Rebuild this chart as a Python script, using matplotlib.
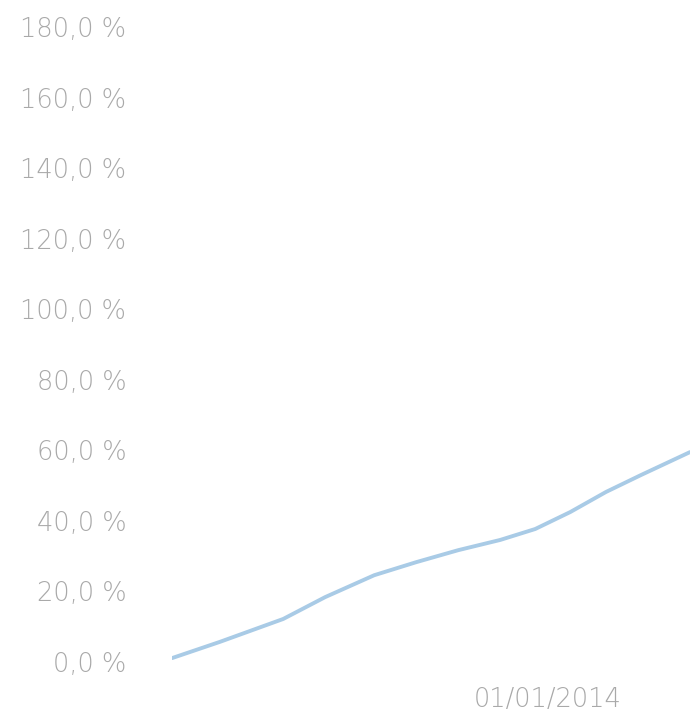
import matplotlib
matplotlib.use('Agg')
import matplotlib.pyplot as plt
import matplotlib.dates as mdates
import pandas as pd
from matplotlib.ticker import FuncFormatter

dates = pd.to_datetime([
    '2011-05-10', '2011-09-10', '2012-02-20', '2012-06-07', '2012-10-11',
    '2013-01-27', '2013-05-15', '2013-08-31', '2013-11-29', '2014-02-27',
    '2014-05-30', '2014-08-28', '2015-01-01',
])
values = [1.1, 5.7, 12.2, 18.4, 24.6, 28.3, 31.7, 34.6, 37.7, 42.5, 48.2, 53.0, 59.5]

y_ticks = [0, 20, 40, 60, 80, 100, 120, 140, 160, 180]
x_ticks = pd.to_datetime(['2014-01-01'])

text_color = '#a9a9a9'

fig = plt.figure(figsize=(6.97, 7.17), dpi=100)
ax = fig.add_axes([172 / 697, 55 / 717, 518 / 697, 635 / 717])

ax.plot(dates, values, color='#a9cbe6', linewidth=2.8, solid_capstyle='round')

ax.set_xlim(dates[0], dates[-1])
ax.set_ylim(0, 180)
ax.set_yticks(y_ticks)
ax.yaxis.set_major_formatter(FuncFormatter(lambda v, p: f'{v:.1f}'.replace('.', ',') + ' %'))
ax.set_xticks(x_ticks)
ax.xaxis.set_major_formatter(mdates.DateFormatter('%d/%m/%Y'))

ax.tick_params(axis='both', length=0, labelsize=18.5, labelcolor=text_color)
ax.tick_params(axis='y', pad=33)
ax.tick_params(axis='x', pad=18)
for lbl in ax.get_xticklabels() + ax.get_yticklabels():
    lbl.set_fontfamily('DejaVu Sans')
    lbl.set_fontweight('light')

for s in ax.spines.values():
    s.set_visible(False)
ax.patch.set_alpha(0)

fig.savefig('out.png', dpi=100)
